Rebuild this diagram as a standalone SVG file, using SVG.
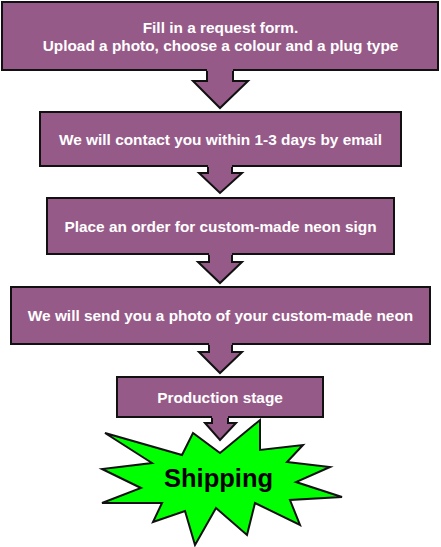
<svg xmlns="http://www.w3.org/2000/svg" width="441" height="547" viewBox="0 0 441 547">
<style>
.box{fill:#965a88;stroke:#111;stroke-width:2}
.lbl{fill:#fff;font-family:"Liberation Sans",Arial,sans-serif;font-weight:bold;font-size:15.4px;text-anchor:middle}
.af{fill:#965a88;stroke:none}
.as{fill:none;stroke:#111;stroke-width:2;stroke-linejoin:miter}
.star{fill:#00ff00;stroke:#111;stroke-width:2;stroke-linejoin:miter}
.big{fill:#000;font-family:"Liberation Sans",Arial,sans-serif;font-weight:bold;font-size:25.5px;text-anchor:middle}
</style>
<rect x="0" y="0" width="441" height="547" fill="#fff"/>
<g id="node1">
<rect class="box" x="2" y="2" width="436" height="68"/>
<text class="lbl" x="220.5" y="32.5">Fill in a request form.</text>
<text class="lbl" x="220.5" y="51">Upload a photo, choose a colour and a plug type</text>
</g>
<g id="node2">
<rect class="box" x="40" y="112" width="361" height="54"/>
<text class="lbl" x="220.5" y="144.5">We will contact you within 1-3 days by email</text>
</g>
<g id="node3">
<rect class="box" x="47" y="198" width="347" height="56"/>
<text class="lbl" x="220.5" y="231.5">Place an order for custom-made neon sign</text>
</g>
<g id="node4">
<rect class="box" x="11" y="287" width="419" height="57"/>
<text class="lbl" x="220.5" y="321">We will send you a photo of your custom-made neon</text>
</g>
<g id="node5">
<rect class="box" x="117" y="377" width="206" height="40"/>
<text class="lbl" x="220" y="402.5">Production stage</text>
</g>
<g id="node6">
<polygon class="star" points="105,433 182,455 193,433 220,453 260,420 260,450 303,445 287,462 330,467 296,482 342,497 290,500 300,525 255,503 247,535 216,508 195,545 185,511 153,522 162,503 102,503 141,488 102,469 152,463"/>
<text class="big" x="218.5" y="487">Shipping</text>
</g>
<g id="connectors">
<polygon class="af" points="207,69 233,69 233,81 248,81 220,108 193,81 207,81"/>
<polyline class="as" points="207,71 207,81 193,81 220,108 248,81 233,81 233,71"/>
<polygon class="af" points="208,165 232,165 232,173 242,173 220,193 199,173 208,173"/>
<polyline class="as" points="208,167 208,173 199,173 220,193 242,173 232,173 232,167"/>
<polygon class="af" points="209,253 232,253 232,262 242,262 220,283 198,262 209,262"/>
<polyline class="as" points="209,255 209,262 198,262 220,283 242,262 232,262 232,255"/>
<polygon class="af" points="209,343 232,343 232,352 242,352 220,373 199,352 209,352"/>
<polyline class="as" points="209,345 209,352 199,352 220,373 242,352 232,352 232,345"/>
<polygon class="af" points="212,416 228,416 228,423 236,423 220,440 205,423 212,423"/>
<polyline class="as" points="212,418 212,423 205,423 220,440 236,423 228,423 228,418"/>
</g>
</svg>
